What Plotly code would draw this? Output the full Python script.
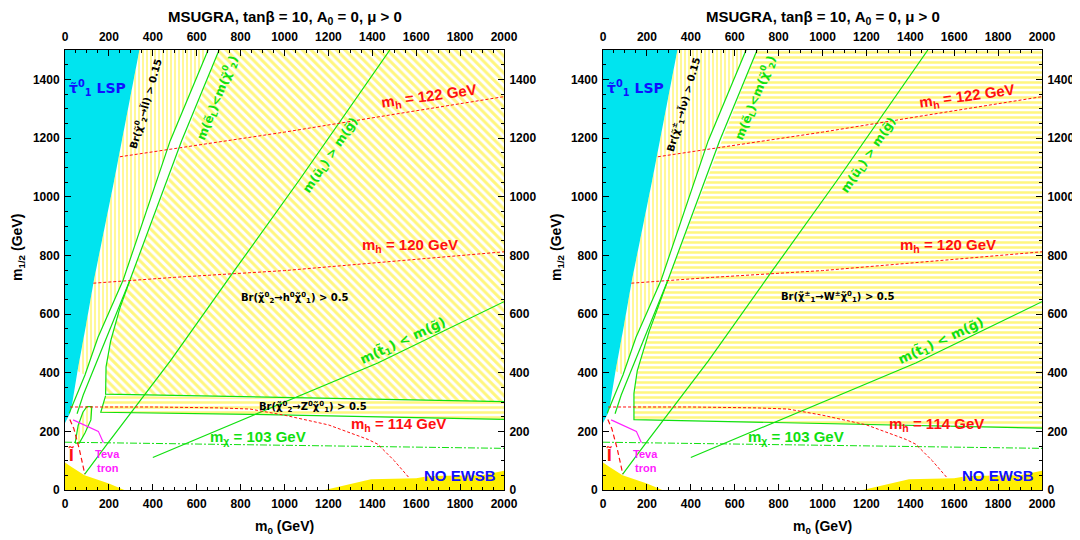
import plotly.graph_objects as go

# ---------------- data (m0, m1/2 in GeV) ----------------
x_ticks = list(range(0, 2001, 200))
y_ticks = list(range(0, 1401, 200))

cyan_m0 = [0, 23, 34, 57, 95, 132, 224, 339, 0]
cyan_m12 = [228, 262, 300, 406, 559, 716, 1055, 1500, 1500]

vhatch_m0 = [57, 95, 132, 224, 339, 652, 479, 265, 150, 91]
vhatch_m12 = [406, 559, 716, 1055, 1500, 1500, 1190, 716, 520, 392]

lineA_m0 = [652, 479, 265, 150, 91, 40, 19]
lineA_m12 = [1500, 1190, 716, 520, 392, 300, 262]

lineB_m0 = [702, 531, 296, 190, 83, 55]
lineB_m12 = [1500, 1190, 716, 520, 324, 260]

# left panel: Br(chi2 -> h chi1) region (diagonal hatch)
hreg_m0 = [702, 2000, 2000, 185, 187, 208, 250, 296]
hreg_m12 = [1500, 1500, 301, 327, 420, 508, 620, 716]
hedge_m0 = [296, 250, 208, 187, 185, 2000]
hedge_m12 = [716, 620, 508, 420, 327, 301]

# left panel: Br(chi2 -> Z chi1) band (horizontal hatch)
zband_m0 = [185, 2000, 2000, 840, 163]
zband_m12 = [322, 301, 241, 258, 265]
zedge_m0 = [185, 163, 840, 2000]
zedge_m12 = [322, 265, 258, 241]

# left panel small patch near origin
patch_m0 = [46, 60, 82, 100, 122, 118, 91, 65, 46]
patch_m12 = [160, 220, 266, 284, 284, 239, 194, 160, 160]

# right panel: Br(chi1+- -> W chi1) region (horizontal hatch)
wreg_m0 = [702, 2000, 2000, 141, 141, 156, 210, 296]
wreg_m12 = [1500, 1500, 211, 240, 330, 406, 540, 716]
wedge_m0 = [296, 210, 156, 141, 141, 2000]
wedge_m12 = [716, 540, 406, 330, 240, 211]

uL_m0 = [1480, 1066, 769, 480, 190, 89]
uL_m12 = [1500, 1055, 745, 440, 155, 53]

t1_m0 = [400, 1425, 2000]
t1_m12 = [111, 433, 642]

mchi_m0 = [0, 2000]
mchi_m12 = [163, 142]

mh114_m0 = [23, 400, 700, 843, 1000, 1200, 1382, 1425, 1500, 1566]
mh114_m12 = [283, 283, 280, 276, 255, 222, 172, 156, 100, 43]

mh120_m0 = [129, 500, 1000, 2000]
mh120_m12 = [705, 725, 748, 812]

mh122_m0 = [250, 1000, 1526, 2000]
mh122_m12 = [1136, 1220, 1284, 1341]

teva_m0 = [37, 152, 175]
teva_m12 = [239, 200, 161]

slep_m0 = [22, 40, 65, 90]
slep_m12 = [240, 210, 140, 55]

ewsb1_m0 = [0, 0, 30, 89, 200, 270]
ewsb1_m12 = [0, 94, 78, 50, 22, 0]
ewsb2_m0 = [1183, 1300, 1394, 1600, 1660, 1900, 2000, 2000]
ewsb2_m12 = [0, 20, 37, 40, 48, 50, 66, 0]

# ---------------- style ----------------
FONT = "Liberation Sans, Arial, Helvetica, sans-serif"
TFONT = "DejaVu Sans, sans-serif"   # for labels with combining tildes
CYAN = "#00e4ef"
YEL = "#ffee00"
GREEN = "#10e010"
RED = "#ff1010"
MAG = "#ff20ff"
BLUE = "#1010ff"

fig = go.Figure()


def poly(xa, ya, xs, ys, color=None, pattern=None, size=5, sol=0.3):
    kw = dict(x=xs, y=ys, fill="toself", mode="lines", line=dict(width=0),
              xaxis=xa, yaxis=ya, hoverinfo="skip", showlegend=False)
    if pattern:
        kw["fillcolor"] = "rgba(0,0,0,0)"
        kw["fillpattern"] = dict(shape=pattern, fgcolor=YEL, bgcolor="rgba(0,0,0,0)",
                                 size=size, solidity=sol)
    else:
        kw["fillcolor"] = color
    fig.add_trace(go.Scatter(**kw))


def line(xa, ya, xs, ys, color, width=1.2, dash=None):
    fig.add_trace(go.Scatter(x=xs, y=ys, mode="lines",
                             line=dict(color=color, width=width, dash=dash),
                             xaxis=xa, yaxis=ya, hoverinfo="skip", showlegend=False))


def ann(xa, ya, x, y, text, color="black", size=15, angle=0, family=FONT):
    fig.add_annotation(x=x, y=y, xref=xa, yref=ya, text=text, showarrow=False,
                       textangle=angle,
                       font=dict(family=family, size=size, color=color, weight="bold"))


chi = "χ\u0303"
RDASH = "3px,2px"
GDASHDOT = "7px,2px,2px,2px"
for i, (xa, ya) in enumerate([("x", "y"), ("x2", "y2")]):
    poly(xa, ya, cyan_m0, cyan_m12, color=CYAN)
    poly(xa, ya, vhatch_m0, vhatch_m12, pattern="|", size=4, sol=0.4)
    if i == 0:
        poly(xa, ya, hreg_m0, hreg_m12, pattern="\\", size=6, sol=0.5)
        poly(xa, ya, zband_m0, zband_m12, pattern="-", size=5, sol=0.5)
        poly(xa, ya, patch_m0, patch_m12, pattern="|", size=4, sol=0.4)
    else:
        poly(xa, ya, wreg_m0, wreg_m12, pattern="-", size=5, sol=0.5)
    poly(xa, ya, ewsb1_m0, ewsb1_m12, color=YEL)
    poly(xa, ya, ewsb2_m0, ewsb2_m12, color=YEL)

    line(xa, ya, lineA_m0, lineA_m12, GREEN)
    line(xa, ya, lineB_m0, lineB_m12, GREEN)
    if i == 0:
        line(xa, ya, hedge_m0, hedge_m12, GREEN)
        line(xa, ya, zedge_m0, zedge_m12, GREEN)
        line(xa, ya, patch_m0, patch_m12, GREEN)
    else:
        line(xa, ya, wedge_m0, wedge_m12, GREEN)
    line(xa, ya, uL_m0, uL_m12, GREEN)
    line(xa, ya, t1_m0, t1_m12, GREEN)
    line(xa, ya, mchi_m0, mchi_m12, GREEN, 1, GDASHDOT)
    line(xa, ya, mh114_m0, mh114_m12, RED, 1, RDASH)
    line(xa, ya, mh120_m0, mh120_m12, RED, 1, RDASH)
    line(xa, ya, mh122_m0, mh122_m12, RED, 1, RDASH)
    line(xa, ya, teva_m0, teva_m12, MAG, 1.2)
    line(xa, ya, slep_m0, slep_m12, RED, 1.2, "5px,3px")

    ann(xa, ya, 150, 1370, "τ\u0303<sup>0</sup><sub>1</sub> LSP", BLUE, 14, family=TFONT)
    if i == 0:
        ann(xa, ya, 370, 1315, "Br(" + chi + "<sup>0</sup><sub>2</sub>→l\u0303l) > 0.15",
            "black", 10, -74, TFONT)
        ann(xa, ya, 1050, 655, "Br(" + chi + "<sup>0</sup><sub>2</sub>→h<sup>0</sup>" + chi
            + "<sup>0</sup><sub>1</sub>) > 0.5", "black", 10, family=TFONT)
        ann(xa, ya, 1130, 284, "Br(" + chi + "<sup>0</sup><sub>2</sub>→Z<sup>0</sup>" + chi
            + "<sup>0</sup><sub>1</sub>) > 0.5", "black", 10, family=TFONT)
    else:
        ann(xa, ya, 370, 1315, "Br(" + chi + "<sup>±</sup><sub>1</sub>→l\u0303ν) > 0.15",
            "black", 10, -74, TFONT)
        ann(xa, ya, 1070, 658, "Br(" + chi + "<sup>±</sup><sub>1</sub>→W<sup>±</sup>" + chi
            + "<sup>0</sup><sub>1</sub>) > 0.5", "black", 10, family=TFONT)
    ann(xa, ya, 695, 1335, "m(e\u0303<sub>L</sub>)<m(" + chi + "<sup>0</sup><sub>2</sub>)",
        GREEN, 12, -68, TFONT)
    ann(xa, ya, 1210, 1140, "m(u\u0303<sub>L</sub>) > m(g\u0303)", GREEN, 12, -56, TFONT)
    ann(xa, ya, 1540, 505, "m(t\u0303<sub>1</sub>) < m(g\u0303)", GREEN, 13, -25, TFONT)
    ann(xa, ya, 1660, 1340, "m<sub>h</sub> = 122 GeV", RED, 15, -8)
    ann(xa, ya, 1570, 835, "m<sub>h</sub> = 120 GeV", RED, 15)
    ann(xa, ya, 1520, 222, "m<sub>h</sub> = 114 GeV", RED, 15)
    ann(xa, ya, 878, 178, "m<sub>χ</sub> = 103 GeV", GREEN, 15)
    ann(xa, ya, 1800, 50, "NO EWSB", BLUE, 15)
    ann(xa, ya, 195, 122, "Teva", MAG, 11)
    ann(xa, ya, 195, 76, "tron", MAG, 11)
    ann(xa, ya, 27, 119, "l\u0303", RED, 15, family=TFONT)

# dummy traces so mirrored axes are drawn
for xa, ya in [("x3", "y"), ("x", "y3"), ("x4", "y2"), ("x2", "y4")]:
    fig.add_trace(go.Scatter(x=[None], y=[None], xaxis=xa, yaxis=ya,
                             showlegend=False, hoverinfo="skip"))

TF = dict(family=FONT, size=12, color="black", weight="bold")


def xax(domain, anchor, side="bottom", overlay=None):
    d = dict(range=[0, 2000], tickvals=x_ticks, ticks="inside", ticklen=6,
             tickcolor="black", showline=True, linecolor="black", linewidth=1,
             showgrid=False, zeroline=False, tickfont=TF, side=side, anchor=anchor,
             automargin=False, ticklabelstandoff=3,
             minor=dict(dtick=50, tick0=0, ticks="inside", ticklen=3, tickcolor="black"))
    if overlay:
        d["overlaying"] = overlay
    else:
        d["domain"] = domain
    return d


def yax(anchor, side="left", overlay=None):
    d = dict(range=[0, 1500], tickvals=y_ticks, ticks="inside", ticklen=6,
             tickcolor="black", showline=True, linecolor="black", linewidth=1,
             showgrid=False, zeroline=False, tickfont=TF, side=side, anchor=anchor,
             automargin=False, ticklabelstandoff=2,
             minor=dict(dtick=50, tick0=0, ticks="inside", ticklen=3, tickcolor="black"))
    if overlay:
        d["overlaying"] = overlay
    else:
        d["domain"] = [0, 1]
    return d


# page body has an 8px margin: place plot areas so that they land on the reference pixels
OFF = 8
L = [(65 - OFF) / 1080, (504 - OFF) / 1080]
R = [(603 - OFF) / 1080, (1042 - OFF) / 1080]
PLOT_TOP = 50 - OFF

fig.update_layout(
    width=1080, height=540,
    margin=dict(l=0, r=0, t=PLOT_TOP, b=540 - (490 - OFF), autoexpand=False),
    paper_bgcolor="white", plot_bgcolor="white",
    xaxis=xax(L, "y"), yaxis=yax("x"),
    xaxis3=xax(L, "y", "top", "x"), yaxis3=yax("x", "right", "y"),
    xaxis2=xax(R, "y2"), yaxis2=yax("x2"),
    xaxis4=xax(R, "y2", "top", "x2"), yaxis4=yax("x2", "right", "y2"),
)

for dom, ytx in [(L, (18 - OFF) / 1080), (R, (557 - OFF) / 1080)]:
    cx = (dom[0] + dom[1]) / 2
    fig.add_annotation(x=cx, y=1 + (PLOT_TOP - (18 - OFF)) / 440, xref="paper", yref="paper",
                       showarrow=False, xanchor="center", yanchor="middle",
                       text="MSUGRA, tanβ = 10, A<sub>0</sub> = 0, μ > 0",
                       font=dict(family=FONT, size=15, color="black", weight="bold"))
    fig.add_annotation(x=cx, y=-37 / 440, xref="paper", yref="paper", showarrow=False,
                       xanchor="center", yanchor="middle",
                       text="m<sub>0</sub> (GeV)",
                       font=dict(family=FONT, size=14, color="black", weight="bold"))
    fig.add_annotation(x=ytx, y=0.55, xref="paper", yref="paper", showarrow=False,
                       xanchor="center", yanchor="middle",
                       text="m<sub>1/2</sub> (GeV)", textangle=-90,
                       font=dict(family=FONT, size=14, color="black", weight="bold"))

fig.write_html("out.html")
